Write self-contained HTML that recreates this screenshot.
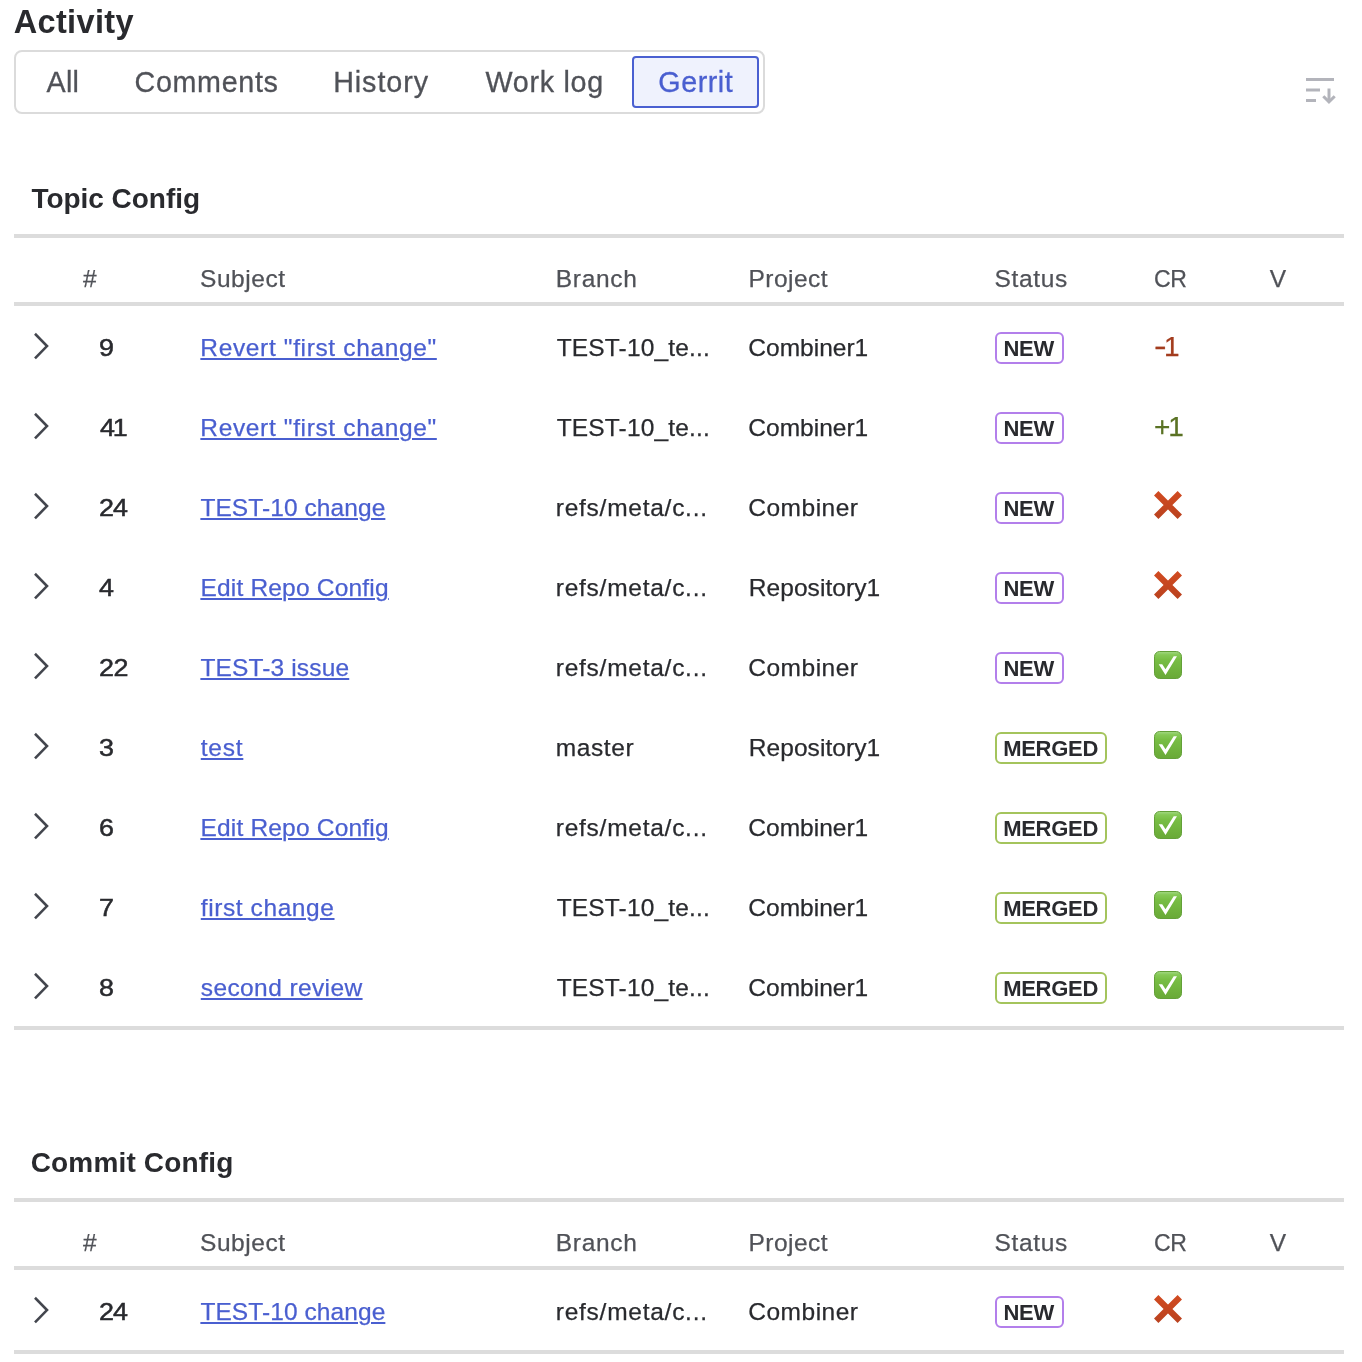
<!DOCTYPE html>
<html lang="en"><head><meta charset="utf-8"><title>Activity</title>
<style>
html,body{margin:0;padding:0;background:#fff;}
body{width:1362px;height:1362px;position:relative;overflow:hidden;font-family:"Liberation Sans",sans-serif;color:#292a2e;font-size:24px;}
*{box-sizing:border-box;}
h1,h2{margin:0;padding:0;}
.title{position:absolute;left:14px;top:2px;font-size:32.5px;line-height:40px;font-weight:700;color:#292a2e;white-space:nowrap;}
.tabs{position:absolute;left:14px;top:50px;width:751px;height:64px;border:2px solid #dbdbdb;border-radius:8px;background:#fff;}
.tab{position:absolute;top:0;height:60px;line-height:60px;font-size:28.7px;color:#505258;white-space:nowrap;-webkit-text-stroke-width:0.3px;}
.tab.sel{left:616px;top:4px;width:127px;height:52px;line-height:48px;border:2px solid #4a60d1;border-radius:4px;background:#eff2fd;color:#4a5fd0;}
.tab.sel span{position:absolute;left:25px;top:0;}
.sort{position:absolute;left:1300px;top:70px;}
.sec{position:absolute;left:31px;margin-top:1px;font-size:28px;line-height:56px;font-weight:700;color:#292a2e;white-space:nowrap;}
.hr{position:absolute;left:14px;width:1330px;height:4px;background:#dcdcdc;}
.row{position:absolute;left:0;width:1362px;height:80px;line-height:80px;}
.row>*{position:absolute;top:2px;white-space:nowrap;}
.row.head>*{top:9px;}
.th{font-size:24.5px;color:#505258;-webkit-text-stroke-width:0.25px;}
.td{font-size:24.5px;color:#292a2e;-webkit-text-stroke-width:0.25px;}
.c-num{left:83px;}
.c-n{left:99px;font-size:24px;-webkit-text-stroke-width:0.5px;display:inline-block;transform:scaleX(1.12);transform-origin:0 50%;}
.c-sub{left:200px;}
.c-br{left:557px;}
.c-pr{left:749px;}
.c-st{left:995px;}
.c-cr{left:1155px;}
.c-v{left:1270px;}
.th.c-cr{display:inline-block;transform:scaleX(0.94);transform-origin:0 50%;}
.lnk{color:#4a5fd0;text-decoration:underline;text-decoration-thickness:2px;text-underline-offset:1.5px;}
.row>.chev{left:30px;top:25px;}
.row>.ic{left:1154px;top:25px;}
.badge{left:995px;top:26px;height:32px;line-height:28px;border:2px solid #b37feb;border-radius:6px;padding:0 7px;font-size:22px;font-weight:700;color:#292a2e;background:#fff;}
.badge.new{width:69px;}
.badge.mrg{border-color:#a4c45c;width:112px;}
.badge span{position:relative;top:0.5px;}
.row>.sc{font-size:28px;top:1px;}
.sc.neg{color:#a33c1e;}
.mn{display:inline-block;transform:translateY(-1.5px) scaleX(1.35);transform-origin:0 50%;margin-right:2.6px;}
.sc.pos{color:#5a7224;}
</style></head><body>
<h1 class="title" style="letter-spacing:0.35px;margin-left:-0.31px;">Activity</h1>
<div class="tabs">
<span class="tab" style="left:31px;letter-spacing:0.24px;margin-left:-0.45px;">All</span>
<span class="tab" style="left:120px;letter-spacing:0.67px;margin-left:-1.50px;">Comments</span>
<span class="tab" style="left:319px;letter-spacing:0.94px;margin-left:-1.87px;">History</span>
<span class="tab" style="left:469px;letter-spacing:0.74px;margin-left:0.42px;">Work log</span>
<span class="tab sel"><span style="letter-spacing:0.51px;margin-left:-0.67px;">Gerrit</span></span>
</div>
<svg class="sort" width="40" height="40" viewBox="0 0 40 40"><g fill="none" stroke="#b3b4bb" stroke-width="3"><path d="M6 9.5 H34"/><path d="M6 20 H20"/><path d="M6 30.5 H16"/><path d="M29 18.5 V32"/><path d="M23.3 26.2 L29 31.9 L34.7 26.2" stroke-linejoin="miter"/></g></svg>
<h2 class="sec" style="top:170px;letter-spacing:-0.04px;margin-left:0.49px;">Topic Config</h2>
<div class="hr" style="top:234px"></div>
<div class="row head" style="top:238px;height:64px;line-height:64px">
<span class="th c-num" style="margin-left:0.12px;">#</span>
<span class="th c-sub" style="letter-spacing:0.57px;">Subject</span>
<span class="th c-br" style="letter-spacing:0.68px;margin-left:-1.21px;">Branch</span>
<span class="th c-pr" style="letter-spacing:0.47px;margin-left:-0.48px;">Project</span>
<span class="th c-st" style="letter-spacing:0.63px;margin-left:-0.47px;">Status</span>
<span class="th c-cr" style="letter-spacing:-0.40px;margin-left:-0.70px;">CR</span>
<span class="th c-v" style="margin-left:-0.25px;">V</span>
</div>
<div class="hr" style="top:302px"></div>
<div class="row" style="top:306px">
<svg class="chev" width="24" height="30" viewBox="0 0 24 30"><path d="M5.9 3.7 L17 15.05 L5.9 26.4" fill="none" stroke="#43464e" stroke-width="2.6" stroke-linecap="square" stroke-linejoin="miter"/></svg>
<span class="td c-n" style="">9</span>
<a class="td c-sub lnk" style="letter-spacing:0.64px;margin-left:0.36px;">Revert "first change"</a>
<span class="td c-br" style="letter-spacing:0.15px;margin-left:-0.27px;">TEST-10_te...</span>
<span class="td c-pr" style="letter-spacing:0.01px;margin-left:-0.70px;">Combiner1</span>
<span class="badge new"><span style="letter-spacing:-0.21px;margin-left:-0.59px;">NEW</span></span>
<span class="td c-cr sc neg" style="letter-spacing:-1.90px;margin-left:-1.00px;"><span class="mn">-</span>1</span>
</div>
<div class="row" style="top:386px">
<svg class="chev" width="24" height="30" viewBox="0 0 24 30"><path d="M5.9 3.7 L17 15.05 L5.9 26.4" fill="none" stroke="#43464e" stroke-width="2.6" stroke-linecap="square" stroke-linejoin="miter"/></svg>
<span class="td c-n" style="letter-spacing:-2.00px;margin-left:0.50px;">41</span>
<a class="td c-sub lnk" style="letter-spacing:0.64px;margin-left:0.36px;">Revert "first change"</a>
<span class="td c-br" style="letter-spacing:0.15px;margin-left:-0.27px;">TEST-10_te...</span>
<span class="td c-pr" style="letter-spacing:0.01px;margin-left:-0.70px;">Combiner1</span>
<span class="badge new"><span style="letter-spacing:-0.21px;margin-left:-0.59px;">NEW</span></span>
<span class="td c-cr sc pos" style="letter-spacing:-2.20px;margin-left:-1.00px;">+1</span>
</div>
<div class="row" style="top:466px">
<svg class="chev" width="24" height="30" viewBox="0 0 24 30"><path d="M5.9 3.7 L17 15.05 L5.9 26.4" fill="none" stroke="#43464e" stroke-width="2.6" stroke-linecap="square" stroke-linejoin="miter"/></svg>
<span class="td c-n" style="letter-spacing:-0.90px;margin-left:-0.20px;">24</span>
<a class="td c-sub lnk" style="letter-spacing:0.08px;margin-left:0.38px;">TEST-10 change</a>
<span class="td c-br" style="letter-spacing:0.74px;margin-left:-1.19px;">refs/meta/c...</span>
<span class="td c-pr" style="letter-spacing:0.49px;margin-left:-0.70px;">Combiner</span>
<span class="badge new"><span style="letter-spacing:-0.21px;margin-left:-0.59px;">NEW</span></span>
<svg class="ic" width="28" height="28" viewBox="0 0 28 28"><defs><linearGradient id="g1" gradientUnits="userSpaceOnUse" x1="0" y1="0" x2="0" y2="28"><stop offset="0" stop-color="#d24b21"/><stop offset="1" stop-color="#b9421f"/></linearGradient></defs><path d="M2.2 2.2 L25.8 25.8 M25.8 2.2 L2.2 25.8" fill="none" stroke="url(#g1)" stroke-width="6.2" stroke-linecap="butt"/></svg>
</div>
<div class="row" style="top:546px">
<svg class="chev" width="24" height="30" viewBox="0 0 24 30"><path d="M5.9 3.7 L17 15.05 L5.9 26.4" fill="none" stroke="#43464e" stroke-width="2.6" stroke-linecap="square" stroke-linejoin="miter"/></svg>
<span class="td c-n" style="margin-left:0.40px;">4</span>
<a class="td c-sub lnk" style="letter-spacing:0.20px;margin-left:0.38px;">Edit Repo Config</a>
<span class="td c-br" style="letter-spacing:0.74px;margin-left:-1.19px;">refs/meta/c...</span>
<span class="td c-pr" style="letter-spacing:0.07px;margin-left:-0.27px;">Repository1</span>
<span class="badge new"><span style="letter-spacing:-0.21px;margin-left:-0.59px;">NEW</span></span>
<svg class="ic" width="28" height="28" viewBox="0 0 28 28"><defs><linearGradient id="g2" gradientUnits="userSpaceOnUse" x1="0" y1="0" x2="0" y2="28"><stop offset="0" stop-color="#d24b21"/><stop offset="1" stop-color="#b9421f"/></linearGradient></defs><path d="M2.2 2.2 L25.8 25.8 M25.8 2.2 L2.2 25.8" fill="none" stroke="url(#g2)" stroke-width="6.2" stroke-linecap="butt"/></svg>
</div>
<div class="row" style="top:626px">
<svg class="chev" width="24" height="30" viewBox="0 0 24 30"><path d="M5.9 3.7 L17 15.05 L5.9 26.4" fill="none" stroke="#43464e" stroke-width="2.6" stroke-linecap="square" stroke-linejoin="miter"/></svg>
<span class="td c-n" style="letter-spacing:-0.40px;margin-left:-0.40px;">22</span>
<a class="td c-sub lnk" style="letter-spacing:0.15px;margin-left:0.38px;">TEST-3 issue</a>
<span class="td c-br" style="letter-spacing:0.74px;margin-left:-1.19px;">refs/meta/c...</span>
<span class="td c-pr" style="letter-spacing:0.49px;margin-left:-0.70px;">Combiner</span>
<span class="badge new"><span style="letter-spacing:-0.21px;margin-left:-0.59px;">NEW</span></span>
<svg class="ic" width="28" height="28" viewBox="0 0 28 28"><defs><linearGradient id="g3" x1="0" y1="0" x2="0" y2="1"><stop offset="0" stop-color="#a4d985"/><stop offset="0.12" stop-color="#86c957"/><stop offset="0.3" stop-color="#78be44"/><stop offset="1" stop-color="#69a937"/></linearGradient></defs><rect x="0.5" y="0.5" width="27" height="27" rx="5.2" fill="url(#g3)" stroke="#63a038" stroke-width="1"/><path d="M4.7 13.3 L8.2 13.3 L11.5 18.3 L19.7 5.3 L23 5.3 L11.5 24 Z" fill="#fff"/></svg>
</div>
<div class="row" style="top:706px">
<svg class="chev" width="24" height="30" viewBox="0 0 24 30"><path d="M5.9 3.7 L17 15.05 L5.9 26.4" fill="none" stroke="#43464e" stroke-width="2.6" stroke-linecap="square" stroke-linejoin="miter"/></svg>
<span class="td c-n" style="">3</span>
<a class="td c-sub lnk" style="letter-spacing:0.77px;margin-left:0.77px;">test</a>
<span class="td c-br" style="letter-spacing:0.59px;margin-left:-1.25px;">master</span>
<span class="td c-pr" style="letter-spacing:0.07px;margin-left:-0.27px;">Repository1</span>
<span class="badge mrg"><span style="letter-spacing:-0.26px;margin-left:-0.89px;">MERGED</span></span>
<svg class="ic" width="28" height="28" viewBox="0 0 28 28"><defs><linearGradient id="g4" x1="0" y1="0" x2="0" y2="1"><stop offset="0" stop-color="#a4d985"/><stop offset="0.12" stop-color="#86c957"/><stop offset="0.3" stop-color="#78be44"/><stop offset="1" stop-color="#69a937"/></linearGradient></defs><rect x="0.5" y="0.5" width="27" height="27" rx="5.2" fill="url(#g4)" stroke="#63a038" stroke-width="1"/><path d="M4.7 13.3 L8.2 13.3 L11.5 18.3 L19.7 5.3 L23 5.3 L11.5 24 Z" fill="#fff"/></svg>
</div>
<div class="row" style="top:786px">
<svg class="chev" width="24" height="30" viewBox="0 0 24 30"><path d="M5.9 3.7 L17 15.05 L5.9 26.4" fill="none" stroke="#43464e" stroke-width="2.6" stroke-linecap="square" stroke-linejoin="miter"/></svg>
<span class="td c-n" style="">6</span>
<a class="td c-sub lnk" style="letter-spacing:0.20px;margin-left:0.38px;">Edit Repo Config</a>
<span class="td c-br" style="letter-spacing:0.74px;margin-left:-1.19px;">refs/meta/c...</span>
<span class="td c-pr" style="letter-spacing:0.01px;margin-left:-0.70px;">Combiner1</span>
<span class="badge mrg"><span style="letter-spacing:-0.26px;margin-left:-0.89px;">MERGED</span></span>
<svg class="ic" width="28" height="28" viewBox="0 0 28 28"><defs><linearGradient id="g5" x1="0" y1="0" x2="0" y2="1"><stop offset="0" stop-color="#a4d985"/><stop offset="0.12" stop-color="#86c957"/><stop offset="0.3" stop-color="#78be44"/><stop offset="1" stop-color="#69a937"/></linearGradient></defs><rect x="0.5" y="0.5" width="27" height="27" rx="5.2" fill="url(#g5)" stroke="#63a038" stroke-width="1"/><path d="M4.7 13.3 L8.2 13.3 L11.5 18.3 L19.7 5.3 L23 5.3 L11.5 24 Z" fill="#fff"/></svg>
</div>
<div class="row" style="top:866px">
<svg class="chev" width="24" height="30" viewBox="0 0 24 30"><path d="M5.9 3.7 L17 15.05 L5.9 26.4" fill="none" stroke="#43464e" stroke-width="2.6" stroke-linecap="square" stroke-linejoin="miter"/></svg>
<span class="td c-n" style="">7</span>
<a class="td c-sub lnk" style="letter-spacing:0.59px;margin-left:0.77px;">first change</a>
<span class="td c-br" style="letter-spacing:0.15px;margin-left:-0.27px;">TEST-10_te...</span>
<span class="td c-pr" style="letter-spacing:0.01px;margin-left:-0.70px;">Combiner1</span>
<span class="badge mrg"><span style="letter-spacing:-0.26px;margin-left:-0.89px;">MERGED</span></span>
<svg class="ic" width="28" height="28" viewBox="0 0 28 28"><defs><linearGradient id="g6" x1="0" y1="0" x2="0" y2="1"><stop offset="0" stop-color="#a4d985"/><stop offset="0.12" stop-color="#86c957"/><stop offset="0.3" stop-color="#78be44"/><stop offset="1" stop-color="#69a937"/></linearGradient></defs><rect x="0.5" y="0.5" width="27" height="27" rx="5.2" fill="url(#g6)" stroke="#63a038" stroke-width="1"/><path d="M4.7 13.3 L8.2 13.3 L11.5 18.3 L19.7 5.3 L23 5.3 L11.5 24 Z" fill="#fff"/></svg>
</div>
<div class="row" style="top:946px">
<svg class="chev" width="24" height="30" viewBox="0 0 24 30"><path d="M5.9 3.7 L17 15.05 L5.9 26.4" fill="none" stroke="#43464e" stroke-width="2.6" stroke-linecap="square" stroke-linejoin="miter"/></svg>
<span class="td c-n" style="">8</span>
<a class="td c-sub lnk" style="letter-spacing:0.40px;margin-left:0.77px;">second review</a>
<span class="td c-br" style="letter-spacing:0.15px;margin-left:-0.27px;">TEST-10_te...</span>
<span class="td c-pr" style="letter-spacing:0.01px;margin-left:-0.70px;">Combiner1</span>
<span class="badge mrg"><span style="letter-spacing:-0.26px;margin-left:-0.89px;">MERGED</span></span>
<svg class="ic" width="28" height="28" viewBox="0 0 28 28"><defs><linearGradient id="g7" x1="0" y1="0" x2="0" y2="1"><stop offset="0" stop-color="#a4d985"/><stop offset="0.12" stop-color="#86c957"/><stop offset="0.3" stop-color="#78be44"/><stop offset="1" stop-color="#69a937"/></linearGradient></defs><rect x="0.5" y="0.5" width="27" height="27" rx="5.2" fill="url(#g7)" stroke="#63a038" stroke-width="1"/><path d="M4.7 13.3 L8.2 13.3 L11.5 18.3 L19.7 5.3 L23 5.3 L11.5 24 Z" fill="#fff"/></svg>
</div>
<div class="hr" style="top:1026px"></div>
<h2 class="sec" style="top:1134px;letter-spacing:0.16px;margin-left:-0.32px;">Commit Config</h2>
<div class="hr" style="top:1198px"></div>
<div class="row head" style="top:1202px;height:64px;line-height:64px">
<span class="th c-num" style="margin-left:0.12px;">#</span>
<span class="th c-sub" style="letter-spacing:0.57px;">Subject</span>
<span class="th c-br" style="letter-spacing:0.68px;margin-left:-1.21px;">Branch</span>
<span class="th c-pr" style="letter-spacing:0.47px;margin-left:-0.48px;">Project</span>
<span class="th c-st" style="letter-spacing:0.63px;margin-left:-0.47px;">Status</span>
<span class="th c-cr" style="letter-spacing:-0.40px;margin-left:-0.70px;">CR</span>
<span class="th c-v" style="margin-left:-0.25px;">V</span>
</div>
<div class="hr" style="top:1266px"></div>
<div class="row" style="top:1270px">
<svg class="chev" width="24" height="30" viewBox="0 0 24 30"><path d="M5.9 3.7 L17 15.05 L5.9 26.4" fill="none" stroke="#43464e" stroke-width="2.6" stroke-linecap="square" stroke-linejoin="miter"/></svg>
<span class="td c-n" style="letter-spacing:-0.90px;margin-left:-0.20px;">24</span>
<a class="td c-sub lnk" style="letter-spacing:0.08px;margin-left:0.38px;">TEST-10 change</a>
<span class="td c-br" style="letter-spacing:0.74px;margin-left:-1.19px;">refs/meta/c...</span>
<span class="td c-pr" style="letter-spacing:0.49px;margin-left:-0.70px;">Combiner</span>
<span class="badge new"><span style="letter-spacing:-0.21px;margin-left:-0.59px;">NEW</span></span>
<svg class="ic" width="28" height="28" viewBox="0 0 28 28"><defs><linearGradient id="g8" gradientUnits="userSpaceOnUse" x1="0" y1="0" x2="0" y2="28"><stop offset="0" stop-color="#d24b21"/><stop offset="1" stop-color="#b9421f"/></linearGradient></defs><path d="M2.2 2.2 L25.8 25.8 M25.8 2.2 L2.2 25.8" fill="none" stroke="url(#g8)" stroke-width="6.2" stroke-linecap="butt"/></svg>
</div>
<div class="hr" style="top:1350px"></div>
</body></html>
